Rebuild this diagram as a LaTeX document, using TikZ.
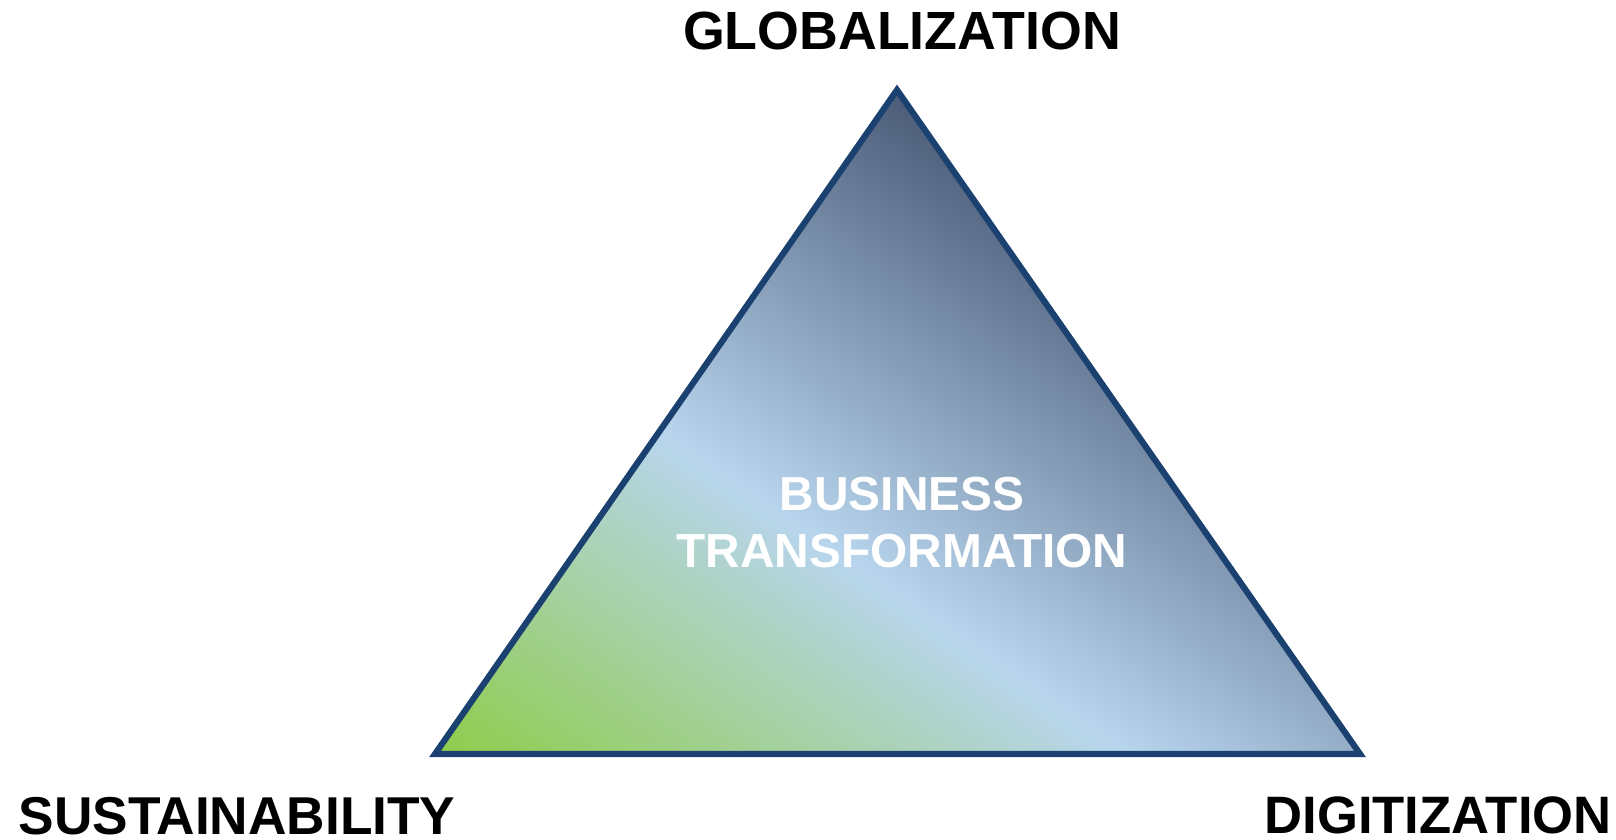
\documentclass[tikz,border=0pt]{standalone}
\usepackage{graphicx}
\usepackage{fontspec}
\setmainfont{Liberation Sans}
\definecolor{tgreen}{HTML}{8ECC45}
\definecolor{tblue}{HTML}{B8D5EE}
\definecolor{tdark}{HTML}{4A5A76}
\definecolor{tedge}{HTML}{1A416F}
\pgfdeclarehorizontalshading{trishade}{100bp}{color(0bp)=(tgreen); color(25bp)=(tgreen); color(49.5bp)=(tblue); color(75bp)=(tdark); color(100bp)=(tdark)}
\begin{document}
\begin{tikzpicture}[x=1pt,y=1pt,
  lab/.style={inner sep=0pt, anchor=base, text=black},
  inlab/.style={inner sep=0pt, anchor=base, text=white, font=\fontsize{47.8pt}{47.8pt}\selectfont\bfseries},
  edge/.style={draw=tedge, line width=6.2pt, line join=miter}]
\useasboundingbox (0,0) rectangle (1616,840);
\coordinate (A) at (897,750);
\coordinate (B) at (435,86);
\coordinate (C) at (1360,86);
\begin{scope}
  \clip (A)--(B)--(C)--cycle;
  \shade[shading=trishade, transform canvas={rotate around={55.5:(B)}}] (425,-713) rectangle (1250,127);
\end{scope}
\draw[edge] (A)--(B)--(C)--cycle;
\node[lab] (glob) at (902,790) {\resizebox{438pt}{!}{\bfseries GLOBALIZATION}};
\node[lab] (sust) at (237,6) {\resizebox{437pt}{!}{\bfseries SUSTAINABILITY}};
\node[lab] (digi) at (1438,6) {\resizebox{347pt}{!}{\bfseries DIGITIZATION}};
\node[inlab] (bus) at (902,329) {BUSINESS};
\node[inlab] (trans) at (902,272) {TRANSFORMATION};
\end{tikzpicture}
\end{document}
